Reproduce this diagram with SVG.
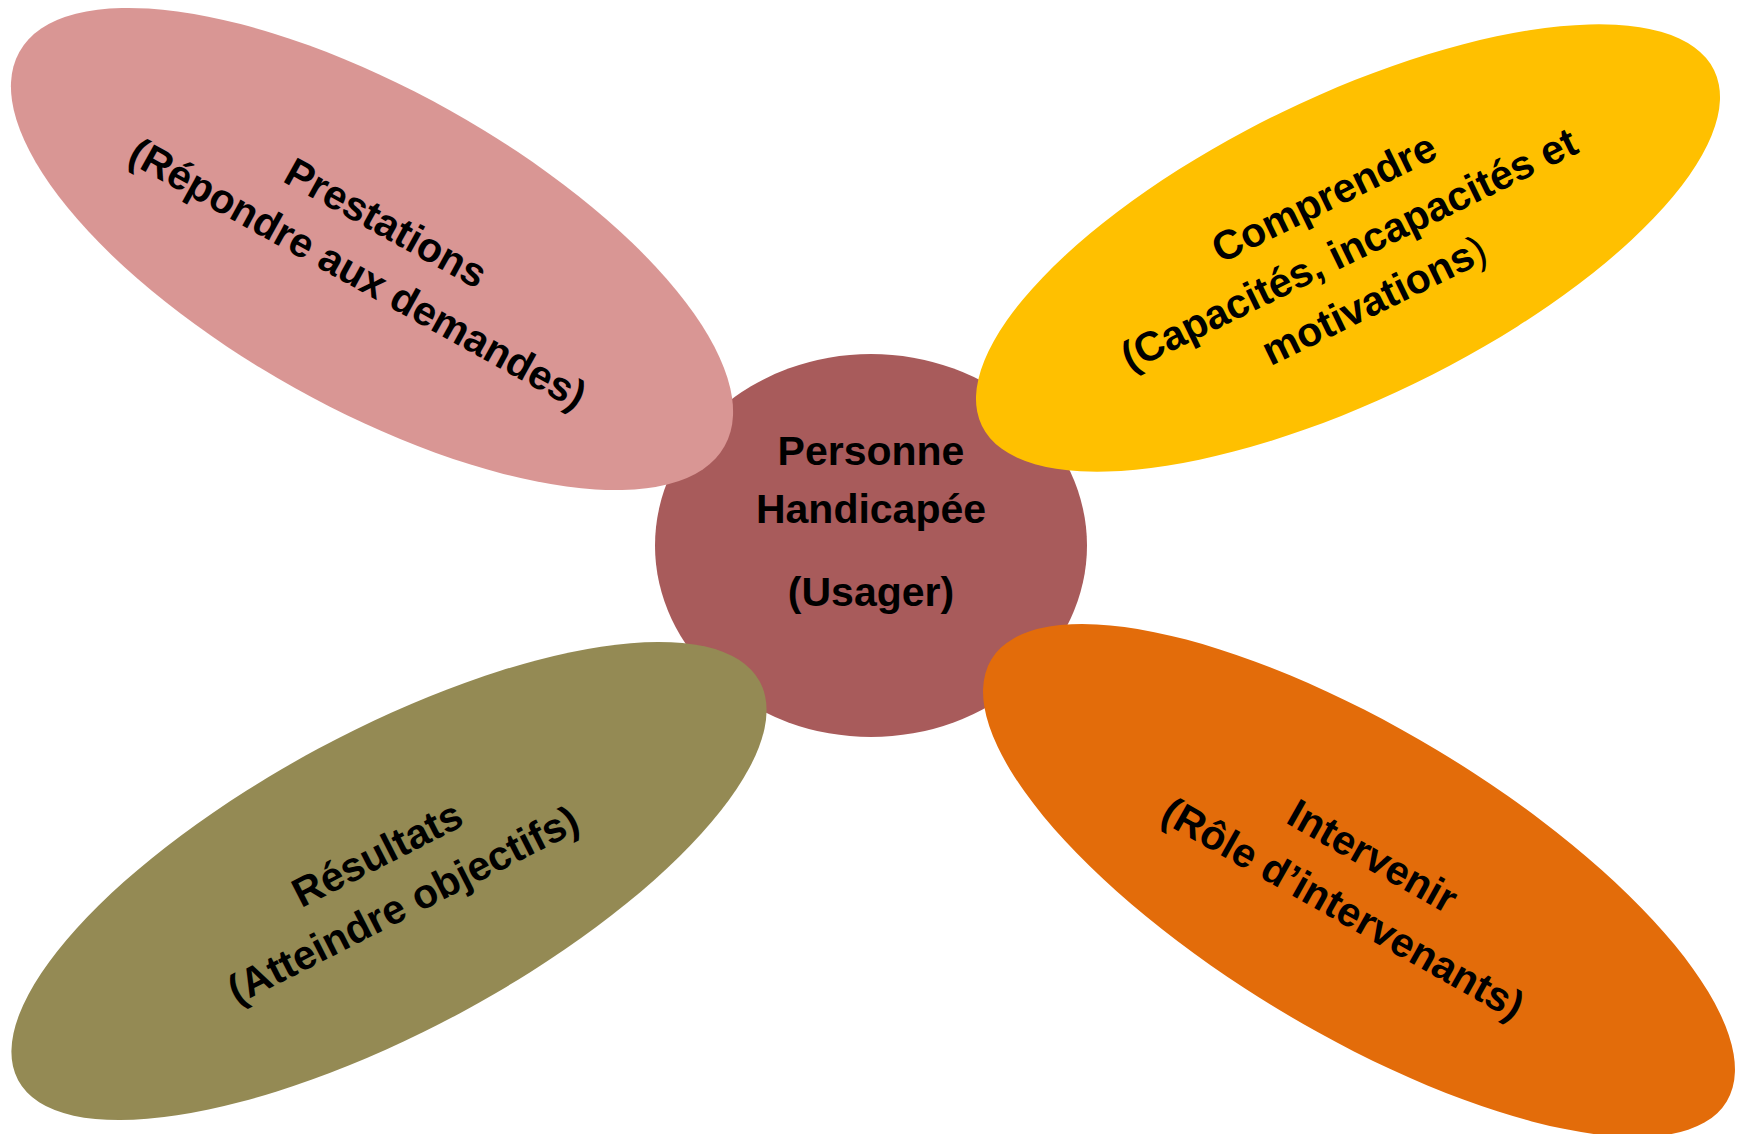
<svg xmlns="http://www.w3.org/2000/svg" width="1744" height="1134" viewBox="0 0 1744 1134">
<style>
  .lbl { font-family: "Liberation Sans", Arial, sans-serif; font-weight: bold; font-size: 41px; fill: #000; text-anchor: middle; }
  .thin { font-weight: normal; }
</style>
<rect x="0" y="0" width="1744" height="1134" fill="#FFFFFF"/>
<g id="connectors"></g>
<g id="node-center">
  <ellipse cx="871" cy="545.5" rx="216" ry="191.5" fill="#A85B5B"/>
  <text class="lbl"><tspan x="871" y="465">Personne</tspan><tspan x="871" y="523">Handicapée</tspan><tspan x="871" y="606">(Usager)</tspan></text>
</g>
<g id="node-prestations">
  <ellipse cx="0" cy="0" rx="404" ry="159" fill="#D99694" transform="translate(372 249) rotate(29.2)"/>
  <text class="lbl" transform="translate(371 250) rotate(29)"><tspan x="0" y="-17">Prestations</tspan><tspan x="0" y="41">(Répondre aux demandes)</tspan></text>
</g>
<g id="node-comprendre">
  <ellipse cx="0" cy="0" rx="407" ry="151" fill="#FFC000" transform="translate(1348 248) rotate(-25.9)"/>
  <text class="lbl" transform="translate(1349 249) rotate(-26)"><tspan x="0" y="-43">Comprendre</tspan><tspan x="0" y="14">(Capacités, incapacités et</tspan><tspan x="0" y="71">motivations<tspan class="thin">)</tspan></tspan></text>
</g>
<g id="node-resultats">
  <ellipse cx="0" cy="0" rx="421" ry="150" fill="#948A54" transform="translate(389 881) rotate(-28.25)"/>
  <text class="lbl" transform="translate(391 881) rotate(-27)"><tspan x="0" y="-16.5">Résultats</tspan><tspan x="0" y="40.5">(Atteindre objectifs)</tspan></text>
</g>
<g id="node-intervenir">
  <ellipse cx="0" cy="0" rx="429" ry="152" fill="#E36C0A" transform="translate(1359 880.5) rotate(31)"/>
  <text class="lbl" transform="translate(1357 884) rotate(29.5)"><tspan x="0" y="-18">Intervenir</tspan><tspan x="0" y="42">(Rôle d’intervenants)</tspan></text>
</g>
</svg>
